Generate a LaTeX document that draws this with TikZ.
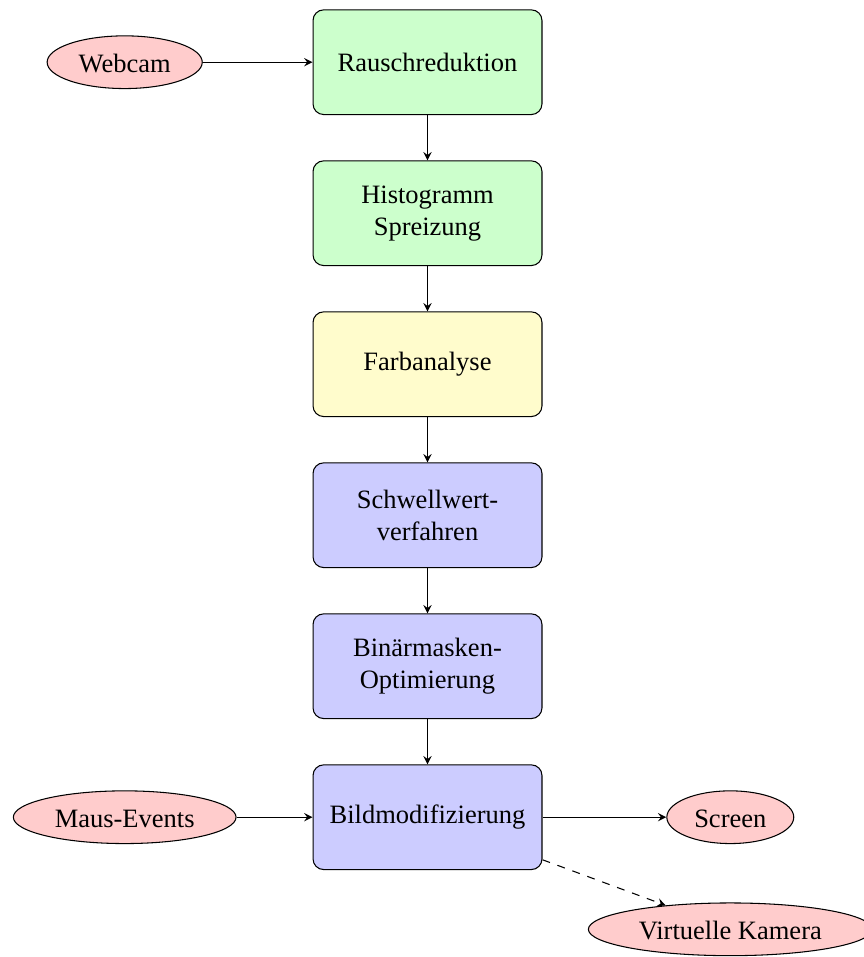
\documentclass[tikz,border=0pt]{standalone}
\usepackage{fontspec}
\setmainfont{Liberation Serif}
\usetikzlibrary{shapes.geometric}
\begin{document}
\begin{tikzpicture}[x=0.3774pt,y=-0.3774pt,
  procbox/.style={rectangle, rounded corners=4pt, draw=black, minimum width=86.4pt, minimum height=39.5pt, align=center, inner sep=3.33pt},
  ioell/.style={ellipse, draw=black, fill=red!20, text height=7.4pt, text depth=0pt},
  conn/.style={-stealth}]
\useasboundingbox (0,0) rectangle (864,957);
\node[procbox, fill=green!20] (rausch) at (427.5,62.2) {Rauschreduktion};
\node[procbox, fill=green!20] (histo) at (427.5,213.2) {Histogramm\\Spreizung};
\node[procbox, fill=yellow!20] (farb) at (427.5,364.2) {Farbanalyse};
\node[procbox, fill=blue!20] (schwell) at (427.5,515.2) {Schwellwert-\\verfahren};
\node[procbox, fill=blue!20] (binaer) at (427.5,666.2) {Binärmasken-\\Optimierung};
\node[procbox, fill=blue!20] (bild) at (427.5,817.2) {Bildmodifizierung};
\node[ioell] (webcam) at (124.7,62.2) {Webcam};
\node[ioell] (maus) at (124.7,817.2) {Maus-Events};
\node[ioell] (screen) at (730.3,817.2) {Screen};
\node[ioell] (vk) at (730.3,929.3) {Virtuelle Kamera};
\draw[conn] (webcam) -- (rausch);
\draw[conn] (rausch) -- (histo);
\draw[conn] (histo) -- (farb);
\draw[conn] (farb) -- (schwell);
\draw[conn] (schwell) -- (binaer);
\draw[conn] (binaer) -- (bild);
\draw[conn] (maus) -- (bild);
\draw[conn] (bild) -- (screen);
\draw[conn, dashed] (bild) -- (vk);
\end{tikzpicture}
\end{document}
